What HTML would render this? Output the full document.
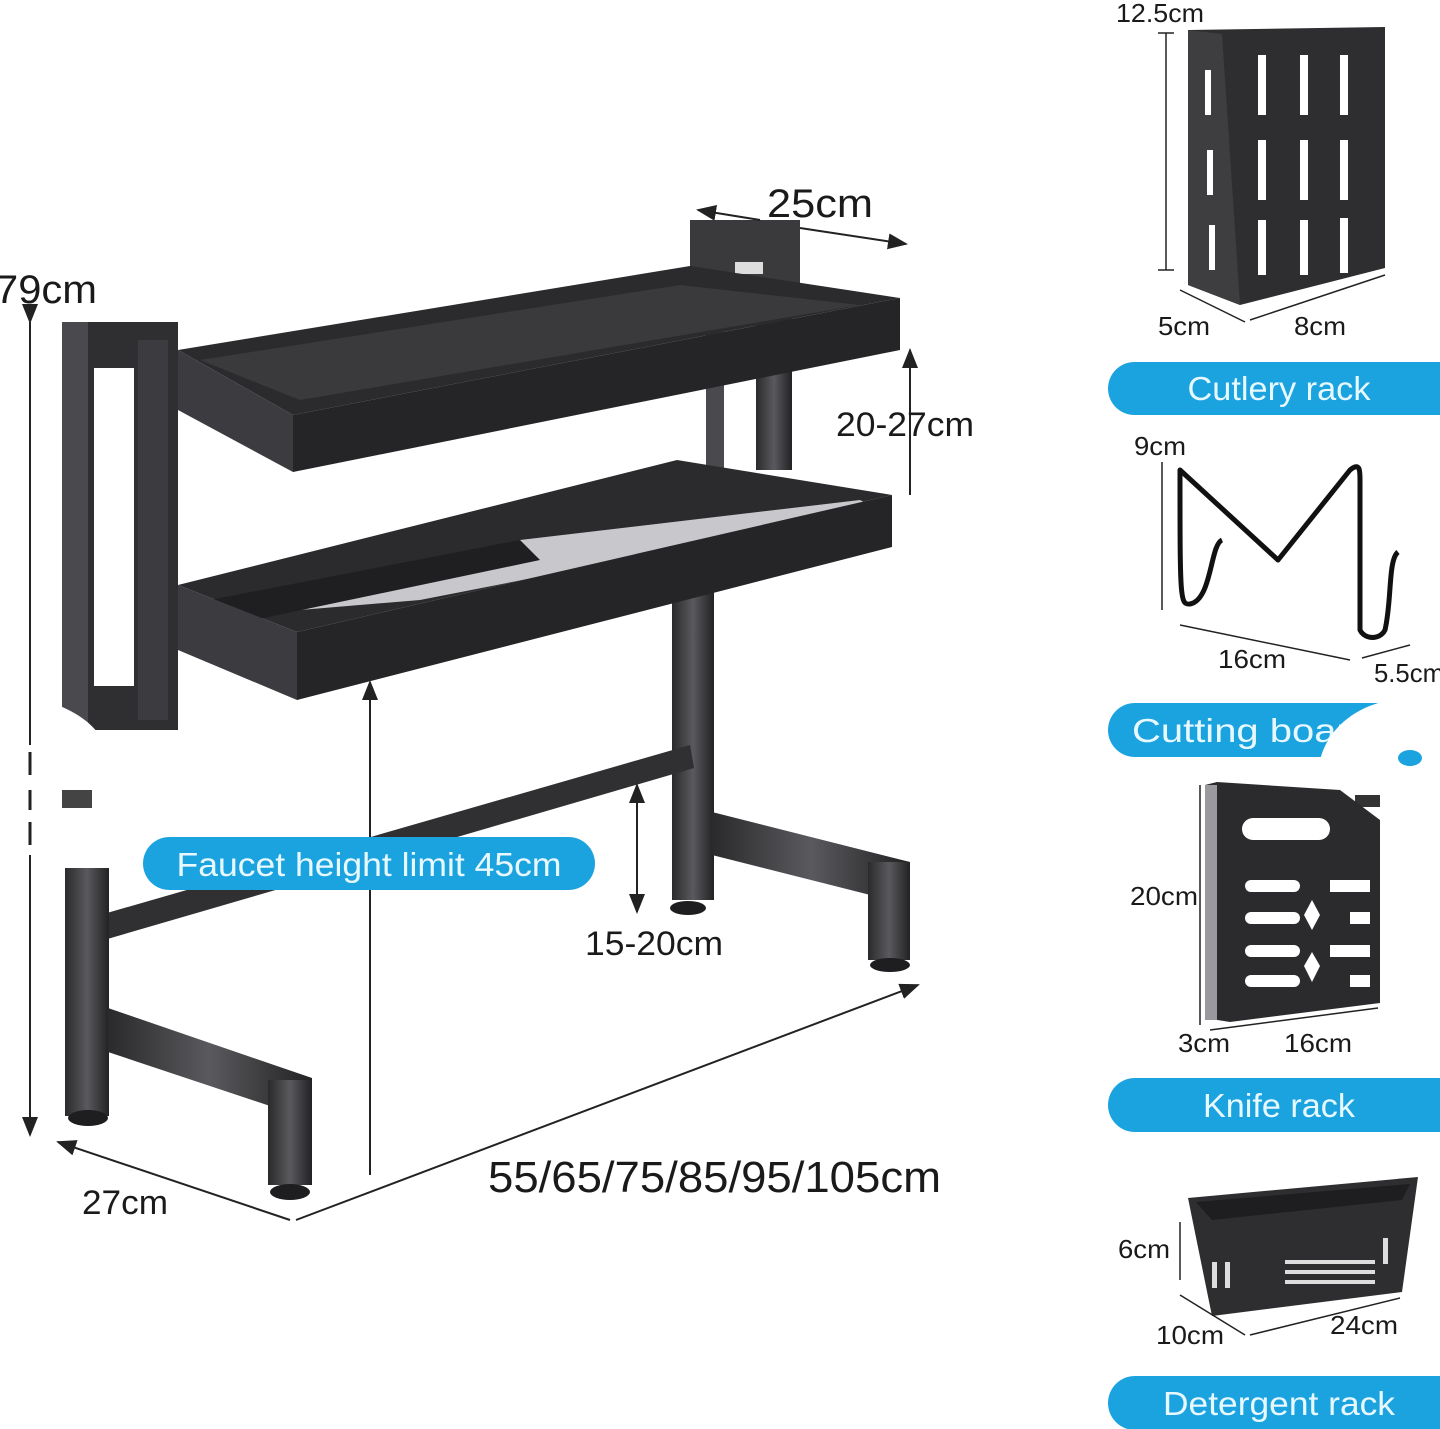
<!DOCTYPE html>
<html><head><meta charset="utf-8"><style>
html,body{margin:0;padding:0;background:#fff;}
svg{display:block;}
text{font-family:"Liberation Sans Narrow","Liberation Sans",sans-serif;}
</style></head><body>
<svg width="1440" height="1429" viewBox="0 0 1440 1429" xmlns="http://www.w3.org/2000/svg">
<defs>
<linearGradient id="met" x1="0" x2="1" y1="0" y2="0">
<stop offset="0" stop-color="#2a2a2c"/><stop offset="0.5" stop-color="#5a5a5e"/><stop offset="1" stop-color="#222224"/>
</linearGradient>
<marker id="ar" markerWidth="10" markerHeight="8" refX="9" refY="4" orient="auto"><path d="M0,0 L10,4 L0,8 z" fill="#222"/></marker>
</defs>
<rect width="1440" height="1429" fill="#fff"/>

<!-- rear upper bracket and rear posts -->
<rect x="690" y="220" width="110" height="80" fill="#3a3a3d"/>
<rect x="735" y="262" width="28" height="12" fill="#ddd"/>
<rect x="706" y="300" width="18" height="170" fill="#4a4a4e"/>
<rect x="756" y="300" width="36" height="170" fill="url(#met)"/>

<!-- right rear post -->
<rect x="672" y="580" width="42" height="320" fill="url(#met)"/>
<ellipse cx="688" cy="908" rx="18" ry="7" fill="#1e1e20"/>
<!-- rear diagonal bar -->
<polygon points="100,915 690,745 694,768 104,940" fill="#303033"/>
<!-- right foot bar -->
<polygon points="712,812 910,862 910,905 712,855" fill="url(#met)"/>
<rect x="868" y="862" width="42" height="98" fill="url(#met)"/>
<ellipse cx="890" cy="965" rx="20" ry="7" fill="#1e1e20"/>

<!-- left bracket -->
<rect x="62" y="322" width="116" height="408" fill="#2f2f32"/>
<rect x="62" y="322" width="26" height="408" fill="#4a4a4e"/>
<rect x="94" y="368" width="40" height="318" fill="#fff"/>
<rect x="138" y="340" width="30" height="380" fill="#3c3c40"/>

<!-- top shelf -->
<polygon points="178,350 690,266 900,298 293,415" fill="#2b2b2d"/>
<polygon points="200,360 680,285 860,305 300,400" fill="#3a3a3c"/>
<polygon points="293,415 900,298 900,350 293,472" fill="#252527"/>
<polygon points="178,350 293,415 293,472 178,410" fill="#3c3c40"/>

<!-- lower shelf -->
<polygon points="178,585 677,460 892,495 297,632" fill="#2b2b2d"/>
<polygon points="300,610 520,540 860,500 880,510 420,600" fill="#c8c8cc"/>
<polygon points="210,600 520,540 540,560 230,625" fill="#1f1f21"/>
<polygon points="297,632 892,495 892,547 297,700" fill="#252527"/>
<polygon points="178,585 297,632 297,700 178,650" fill="#3c3c40"/>

<!-- white blob -->
<path d="M0,690 C60,700 110,720 110,770 L110,860 C80,880 40,880 0,880 Z" fill="#fff"/>
<rect x="62" y="790" width="30" height="18" fill="#444"/>
<line x1="30" y1="752" x2="30" y2="775" stroke="#222" stroke-width="3"/>
<line x1="30" y1="790" x2="30" y2="810" stroke="#222" stroke-width="3"/>
<line x1="30" y1="822" x2="30" y2="845" stroke="#222" stroke-width="3"/>

<!-- left front legs -->
<rect x="65" y="868" width="44" height="248" fill="url(#met)"/>
<ellipse cx="88" cy="1118" rx="20" ry="8" fill="#1e1e20"/>
<polygon points="108,1008 312,1078 312,1120 108,1052" fill="url(#met)"/>
<rect x="268" y="1080" width="44" height="105" fill="url(#met)"/>
<ellipse cx="290" cy="1192" rx="20" ry="8" fill="#1e1e20"/>

<!-- dimension lines -->
<g stroke="#222" stroke-width="2" fill="none">
<line x1="30" y1="322" x2="30" y2="745" marker-start="url(#ar)"/>
<line x1="30" y1="855" x2="30" y2="1135" marker-end="url(#ar)"/>
<line x1="290" y1="1220" x2="58" y2="1142" marker-end="url(#ar)"/>
<line x1="296" y1="1220" x2="918" y2="985" marker-end="url(#ar)"/>
<line x1="800" y1="228" x2="906" y2="244" marker-end="url(#ar)"/>
<line x1="760" y1="220" x2="698" y2="210" marker-end="url(#ar)"/>
<line x1="910" y1="355" x2="910" y2="350" marker-end="url(#ar)"/>
<line x1="910" y1="352" x2="910" y2="495"/>
<line x1="637" y1="790" x2="637" y2="912" marker-end="url(#ar)"/>
<line x1="637" y1="790" x2="637" y2="785" marker-end="url(#ar)"/>
<line x1="370" y1="1175" x2="370" y2="682" marker-end="url(#ar)"/>
</g>

<!-- faucet pill -->
<rect x="143" y="837" width="452" height="53" rx="26.5" fill="#1ba3e0"/>
<text x="369" y="876" font-size="33" fill="#e8f8ff" text-anchor="middle" textLength="385" lengthAdjust="spacingAndGlyphs" font-family="Liberation Sans,sans-serif">Faucet height limit 45cm</text>

<!-- labels -->
<g fill="#1a1a1a">
<text x="-5" y="303" font-size="40" textLength="102" lengthAdjust="spacingAndGlyphs">79cm</text>
<text x="767" y="217" font-size="40" textLength="106" lengthAdjust="spacingAndGlyphs">25cm</text>
<text x="836" y="436" font-size="34" textLength="138" lengthAdjust="spacingAndGlyphs">20-27cm</text>
<text x="585" y="955" font-size="34" textLength="138" lengthAdjust="spacingAndGlyphs">15-20cm</text>
<text x="82" y="1214" font-size="34" textLength="86" lengthAdjust="spacingAndGlyphs">27cm</text>
<text x="488" y="1192" font-size="44" textLength="453" lengthAdjust="spacingAndGlyphs">55/65/75/85/95/105cm</text>
</g>

<!-- Cutlery rack -->
<polygon points="1188,30 1385,27 1385,268 1240,305 1188,285" fill="#2e2e30"/>
<polygon points="1188,30 1222,34 1240,305 1188,285" fill="#3e3e41"/>
<g fill="#fff">
<rect x="1258" y="55" width="8" height="60"/><rect x="1258" y="140" width="8" height="60"/><rect x="1258" y="220" width="8" height="55"/>
<rect x="1300" y="55" width="8" height="60"/><rect x="1300" y="140" width="8" height="60"/><rect x="1300" y="220" width="8" height="55"/>
<rect x="1340" y="55" width="8" height="60"/><rect x="1340" y="140" width="8" height="60"/><rect x="1340" y="218" width="8" height="55"/>
<rect x="1205" y="70" width="6" height="45"/><rect x="1207" y="150" width="6" height="45"/><rect x="1209" y="225" width="6" height="45"/>
</g>
<g stroke="#222" stroke-width="1.5" fill="none">
<line x1="1166" y1="33" x2="1166" y2="270"/><line x1="1158" y1="33" x2="1174" y2="33"/><line x1="1158" y1="270" x2="1174" y2="270"/>
<line x1="1180" y1="290" x2="1245" y2="322"/><line x1="1250" y1="320" x2="1385" y2="275"/>
</g>
<g fill="#1a1a1a" font-size="26">
<text x="1116" y="22" textLength="88" lengthAdjust="spacingAndGlyphs">12.5cm</text>
<text x="1158" y="335" textLength="52" lengthAdjust="spacingAndGlyphs">5cm</text>
<text x="1294" y="335" textLength="52" lengthAdjust="spacingAndGlyphs">8cm</text>
</g>
<rect x="1108" y="362" width="360" height="53" rx="26.5" fill="#1ba3e0"/>
<text x="1279" y="400" font-size="33" fill="#e8f8ff" text-anchor="middle" textLength="183" lengthAdjust="spacingAndGlyphs" font-family="Liberation Sans,sans-serif">Cutlery rack</text>

<!-- cutting board holder -->
<path d="M1222,540 C1210,545 1212,600 1190,604 C1180,605 1180,600 1180,470 L1278,560 L1350,470 C1360,462 1360,470 1360,480 L1360,630 C1365,640 1380,640 1385,630 C1392,600 1388,560 1398,552" fill="none" stroke="#111" stroke-width="5" stroke-linejoin="round"/>
<g stroke="#222" stroke-width="1.5"><line x1="1162" y1="462" x2="1162" y2="610"/><line x1="1180" y1="625" x2="1350" y2="660"/><line x1="1362" y1="658" x2="1410" y2="645"/></g>
<g fill="#1a1a1a" font-size="26">
<text x="1134" y="455" textLength="52" lengthAdjust="spacingAndGlyphs">9cm</text>
<text x="1218" y="668" textLength="68" lengthAdjust="spacingAndGlyphs">16cm</text>
<text x="1374" y="682" textLength="70" lengthAdjust="spacingAndGlyphs">5.5cm</text>
</g>
<rect x="1108" y="703" width="360" height="54" rx="27" fill="#1ba3e0"/>
<text x="1132" y="742" font-size="33" fill="#e8f8ff" textLength="240" lengthAdjust="spacingAndGlyphs" font-family="Liberation Sans,sans-serif">Cutting board</text>
<path d="M1320,760 C1330,720 1370,700 1400,700 L1440,700 L1440,800 L1330,800 Z" fill="#fff"/>
<ellipse cx="1410" cy="758" rx="12" ry="8" fill="#1ba3e0"/>
<rect x="1355" y="795" width="25" height="12" fill="#333"/>

<!-- knife rack -->
<polygon points="1217,782 1340,790 1380,820 1380,1003 1230,1022 1205,1018 1205,785" fill="#2b2b2d"/>
<rect x="1205" y="785" width="12" height="235" fill="#9a9a9e"/>
<g fill="#fff">
<rect x="1242" y="818" width="88" height="22" rx="11"/>
<rect x="1245" y="880" width="55" height="12" rx="6"/><rect x="1330" y="880" width="40" height="12"/>
<rect x="1245" y="912" width="55" height="12" rx="6"/><rect x="1350" y="912" width="20" height="12"/>
<rect x="1245" y="945" width="55" height="12" rx="6"/><rect x="1330" y="945" width="40" height="12"/>
<rect x="1245" y="975" width="55" height="12" rx="6"/><rect x="1350" y="975" width="20" height="12"/>
<polygon points="1312,900 1320,915 1312,930 1304,915"/><polygon points="1312,952 1320,966 1312,982 1304,966"/>
</g>
<g stroke="#222" stroke-width="1.5"><line x1="1200" y1="785" x2="1200" y2="1025"/><line x1="1210" y1="1030" x2="1378" y2="1008"/></g>
<g fill="#1a1a1a" font-size="26">
<text x="1130" y="905" textLength="68" lengthAdjust="spacingAndGlyphs">20cm</text>
<text x="1178" y="1052" textLength="52" lengthAdjust="spacingAndGlyphs">3cm</text>
<text x="1284" y="1052" textLength="68" lengthAdjust="spacingAndGlyphs">16cm</text>
</g>
<rect x="1108" y="1078" width="360" height="54" rx="27" fill="#1ba3e0"/>
<text x="1279" y="1117" font-size="33" fill="#e8f8ff" text-anchor="middle" textLength="152" lengthAdjust="spacingAndGlyphs" font-family="Liberation Sans,sans-serif">Knife rack</text>

<!-- detergent basket -->
<polygon points="1188,1198 1418,1177 1402,1292 1212,1316" fill="#2e2e30"/>
<polygon points="1196,1202 1410,1184 1402,1200 1212,1220" fill="#1e1e20"/>
<g fill="#ddd">
<rect x="1212" y="1262" width="5" height="26"/><rect x="1225" y="1262" width="5" height="26"/><rect x="1383" y="1238" width="5" height="26"/>
<rect x="1285" y="1260" width="90" height="4"/><rect x="1285" y="1270" width="90" height="4"/><rect x="1285" y="1280" width="90" height="4"/>
</g>
<g stroke="#222" stroke-width="1.5"><line x1="1180" y1="1222" x2="1180" y2="1280"/><line x1="1180" y1="1295" x2="1245" y2="1335"/><line x1="1250" y1="1335" x2="1400" y2="1298"/></g>
<g fill="#1a1a1a" font-size="26">
<text x="1118" y="1258" textLength="52" lengthAdjust="spacingAndGlyphs">6cm</text>
<text x="1156" y="1344" textLength="68" lengthAdjust="spacingAndGlyphs">10cm</text>
<text x="1330" y="1334" textLength="68" lengthAdjust="spacingAndGlyphs">24cm</text>
</g>
<rect x="1108" y="1376" width="360" height="54" rx="27" fill="#1ba3e0"/>
<text x="1279" y="1415" font-size="33" fill="#e8f8ff" text-anchor="middle" textLength="232" lengthAdjust="spacingAndGlyphs" font-family="Liberation Sans,sans-serif">Detergent rack</text>
</svg>
</body></html>
